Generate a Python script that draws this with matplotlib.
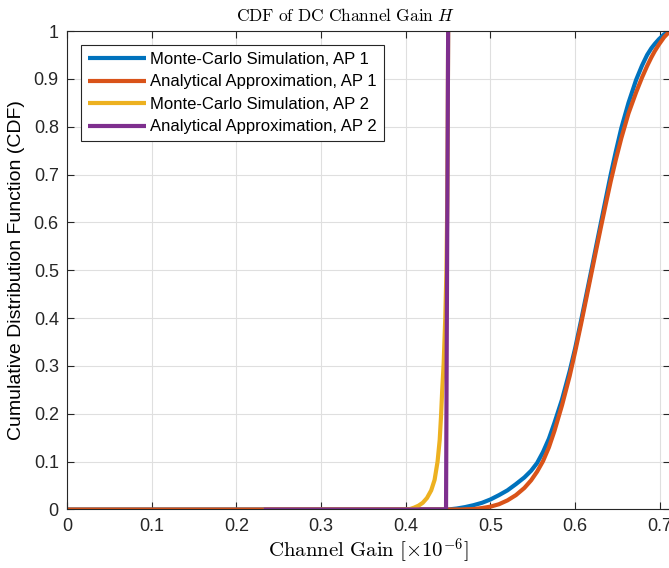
import matplotlib
matplotlib.use("Agg")
import matplotlib.pyplot as plt

# ---- data ----
mc1_x = [0.0, 0.45, 0.46, 0.47, 0.48, 0.49, 0.50, 0.51, 0.52, 0.53, 0.54, 0.548, 0.555,
         0.562, 0.569, 0.5755, 0.5845, 0.5935, 0.600, 0.607, 0.613, 0.619, 0.625, 0.6305,
         0.636, 0.642, 0.648, 0.6545, 0.663, 0.672, 0.679, 0.685, 0.690, 0.694, 0.699,
         0.705, 0.712]
mc1_y = [0.0, 0.0, 0.002, 0.005, 0.009, 0.014, 0.021, 0.030, 0.040, 0.053, 0.067, 0.081, 0.097,
         0.120, 0.148, 0.181, 0.230, 0.289, 0.337, 0.395, 0.447, 0.499, 0.552, 0.600,
         0.648, 0.700, 0.748, 0.797, 0.850, 0.898, 0.928, 0.950, 0.964, 0.973, 0.983,
         0.993, 1.0]

an1_x = [0.0, 0.465, 0.48, 0.49, 0.50, 0.51, 0.52, 0.53, 0.54, 0.548, 0.555, 0.562, 0.569,
         0.5755, 0.5845, 0.5935, 0.600, 0.607, 0.613, 0.619, 0.625, 0.6305, 0.636, 0.642,
         0.648, 0.6545, 0.663, 0.672, 0.679, 0.685, 0.690, 0.694, 0.699, 0.705, 0.712]
an1_y = [0.0, 0.0, 0.001, 0.003, 0.006, 0.011, 0.019, 0.030, 0.045, 0.061, 0.079, 0.101, 0.130,
         0.164, 0.218, 0.279, 0.330, 0.388, 0.440, 0.492, 0.544, 0.591, 0.637, 0.686,
         0.731, 0.776, 0.828, 0.872, 0.903, 0.927, 0.945, 0.958, 0.972, 0.987, 1.0]

mc2_x = [0.232, 0.40, 0.405, 0.41, 0.415, 0.42, 0.425, 0.43, 0.434, 0.4375, 0.440, 0.4416,
         0.443, 0.4447, 0.4466, 0.448, 0.449, 0.4495, 0.450]
mc2_y = [0.0, 0.0, 0.001, 0.004, 0.008, 0.014, 0.024, 0.040, 0.062, 0.100, 0.145, 0.195,
         0.250, 0.305, 0.400, 0.500, 0.650, 0.800, 1.0]

an2_x = [0.232, 0.4475, 0.4487, 0.450]
an2_y = [0.0, 0.0, 0.50, 1.0]

labels = ["Monte-Carlo Simulation, AP 1", "Analytical Approximation, AP 1",
          "Monte-Carlo Simulation, AP 2", "Analytical Approximation, AP 2"]
colors = ["#0072BD", "#D95319", "#EDB120", "#7E2F8E"]

xticks = [0, 0.1, 0.2, 0.3, 0.4, 0.5, 0.6, 0.7]
xticklabels = ["0", "0.1", "0.2", "0.3", "0.4", "0.5", "0.6", "0.7"]
yticks = [0, 0.1, 0.2, 0.3, 0.4, 0.5, 0.6, 0.7, 0.8, 0.9, 1.0]
yticklabels = ["0", "0.1", "0.2", "0.3", "0.4", "0.5", "0.6", "0.7", "0.8", "0.9", "1"]

plt.rcParams['font.family'] = ['Liberation Sans', 'DejaVu Sans']
plt.rcParams['mathtext.fontset'] = 'cm'

fig = plt.figure(figsize=(6.69, 5.68), dpi=100)
ax = fig.add_axes([0.1003, 0.1030, 0.9012, 0.8424])

lw = 3.0
for xs, ys, c, lab in zip([mc1_x, an1_x, mc2_x, an2_x], [mc1_y, an1_y, mc2_y, an2_y], colors, labels):
    ax.plot(xs, ys, color=c, lw=lw, label=lab, solid_capstyle='butt', solid_joinstyle='round')

ax.set_xlim(0, 0.712)
ax.set_ylim(0, 1)
ax.set_xticks(xticks)
ax.set_xticklabels(xticklabels)
ax.set_yticks(yticks)
ax.set_yticklabels(yticklabels)

axc = '#262626'
for s in ax.spines.values():
    s.set_color(axc)
    s.set_linewidth(0.8)
ax.tick_params(direction='in', length=5, width=0.8, colors=axc, labelsize=13,
               top=True, right=True, labelcolor='#262626')
ax.tick_params(axis='x', pad=6)
ax.tick_params(axis='y', pad=6)
ax.grid(True, color='#dfdfdf', linewidth=0.8)
ax.set_axisbelow(True)

ax.set_title(r'$\mathrm{CDF\ of\ DC\ Channel\ Gain}\ H$', fontsize=12.5, pad=7,
             color='#000000', x=0.462)
ax.set_xlabel(r'$\mathrm{Channel\ Gain}\ [\times 10^{-6}]$', fontsize=15, labelpad=1)
ax.set_ylabel('Cumulative Distribution Function (CDF)', fontsize=14, labelpad=6)

leg = ax.legend(loc='upper left', bbox_to_anchor=(0.0225, 0.971), fontsize=12,
                frameon=True, fancybox=False, handlelength=3.5, handletextpad=0.25,
                labelspacing=0.45, borderpad=0.42, borderaxespad=0)
leg.get_frame().set_edgecolor('#262626')
leg.get_frame().set_linewidth(0.8)
leg.get_frame().set_alpha(1)

fig.savefig('out.png', dpi=100)
